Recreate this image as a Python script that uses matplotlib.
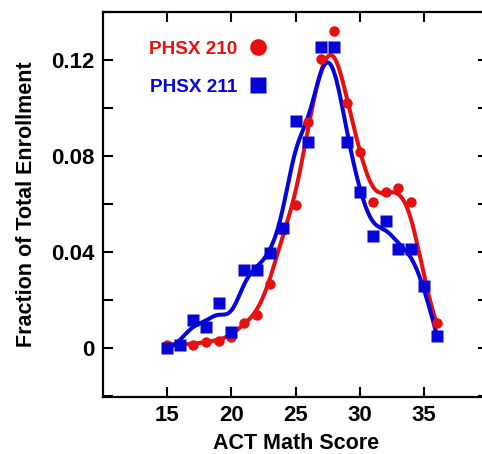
import numpy as np
import matplotlib
matplotlib.use("Agg")
import matplotlib.pyplot as plt
from matplotlib.lines import Line2D
from matplotlib.ticker import MultipleLocator

scores = [15, 16, 17, 18, 19, 20, 21, 22, 23, 24, 25, 26, 27, 28, 29, 30, 31, 32, 33, 34, 35, 36]
phsx210 = [0.0012, 0.0015, 0.0013, 0.0026, 0.0030, 0.0047, 0.0103, 0.0135, 0.0265, 0.049, 0.0596,
           0.0943, 0.1203, 0.1322, 0.1020, 0.0818, 0.0606, 0.0651, 0.0665, 0.0606, 0.0260, 0.0103]
phsx211 = [0.0000, 0.0013, 0.0117, 0.0085, 0.0186, 0.0065, 0.0325, 0.0325, 0.0394, 0.0499, 0.0947,
           0.0860, 0.1256, 0.1256, 0.0860, 0.0651, 0.0464, 0.0530, 0.0413, 0.0413, 0.0256, 0.0050]
labels = ["PHSX 210", "PHSX 211"]

RED = "#E61010"
BLUE = "#0505D8"


def smooth(x, y, sigma=0.78, n=400):
    x = np.asarray(x, float)
    y = np.asarray(y, float)
    xs = np.linspace(x.min(), x.max(), n)
    out = []
    for x0 in xs:
        w = np.exp(-0.5 * ((x - x0) / sigma) ** 2)
        X = np.vstack([np.ones_like(x), x - x0]).T
        W = np.diag(w)
        beta = np.linalg.solve(X.T @ W @ X, X.T @ W @ y)
        out.append(beta[0])
    return xs, np.array(out)


fig = plt.figure(figsize=(4.82, 4.54), dpi=100)
ax = fig.add_axes([103 / 482, 57.3 / 454, 385.3 / 482, 384.7 / 454])

xs, ys = smooth(scores, phsx210)
ax.plot(xs, ys, color=RED, lw=2.9, zorder=2)
xs, ys = smooth(scores, phsx211)
ax.plot(xs, ys, color=BLUE, lw=2.9, zorder=3)
ax.plot(scores, phsx210, 'o', color=RED, ms=7.5, mec='none', zorder=4)
ax.plot(scores, phsx211, 's', color=BLUE, ms=8, mec='none', zorder=5)

ax.set_xlim(10, 40)
ax.set_ylim(-0.0204, 0.14)
ax.set_xticks([15, 20, 25, 30, 35])
ax.set_yticks([0, 0.04, 0.08, 0.12])
ax.set_yticklabels(["0", "0.04", "0.08", "0.12"])
ax.yaxis.set_minor_locator(MultipleLocator(0.02))
for s in ax.spines.values():
    s.set_linewidth(1.6)
ax.tick_params(which='both', direction='in', top=True, right=True, width=1.5,
               labelsize=16, pad=6)
ax.tick_params(which='major', length=7)
ax.tick_params(which='minor', length=7)
for t in ax.get_xticklabels() + ax.get_yticklabels():
    t.set_fontfamily("Liberation Sans")
    t.set_fontweight("bold")

ax.set_xlabel("ACT Math Score", fontsize=15.5, fontweight='bold', family="Liberation Sans", labelpad=5)
ax.set_ylabel("Fraction of Total Enrollment", fontsize=15.5, fontweight='bold', family="Liberation Sans", labelpad=10)

handles = [Line2D([], [], marker='o', ls='none', color=RED, ms=12, mec='none'),
           Line2D([], [], marker='s', ls='none', color=BLUE, ms=12, mec='none')]
leg = ax.legend(handles, labels, loc='upper left', bbox_to_anchor=(0.12, 0.925), frameon=False,
                markerfirst=False, handlelength=1.0, handletextpad=0.6, labelspacing=1.1,
                borderpad=0, borderaxespad=0,
                prop={'family': 'Liberation Sans', 'weight': 'bold', 'size': 13.6})
for txt, c in zip(leg.get_texts(), [RED, BLUE]):
    txt.set_color(c)

fig.savefig("out.png", dpi=100)
